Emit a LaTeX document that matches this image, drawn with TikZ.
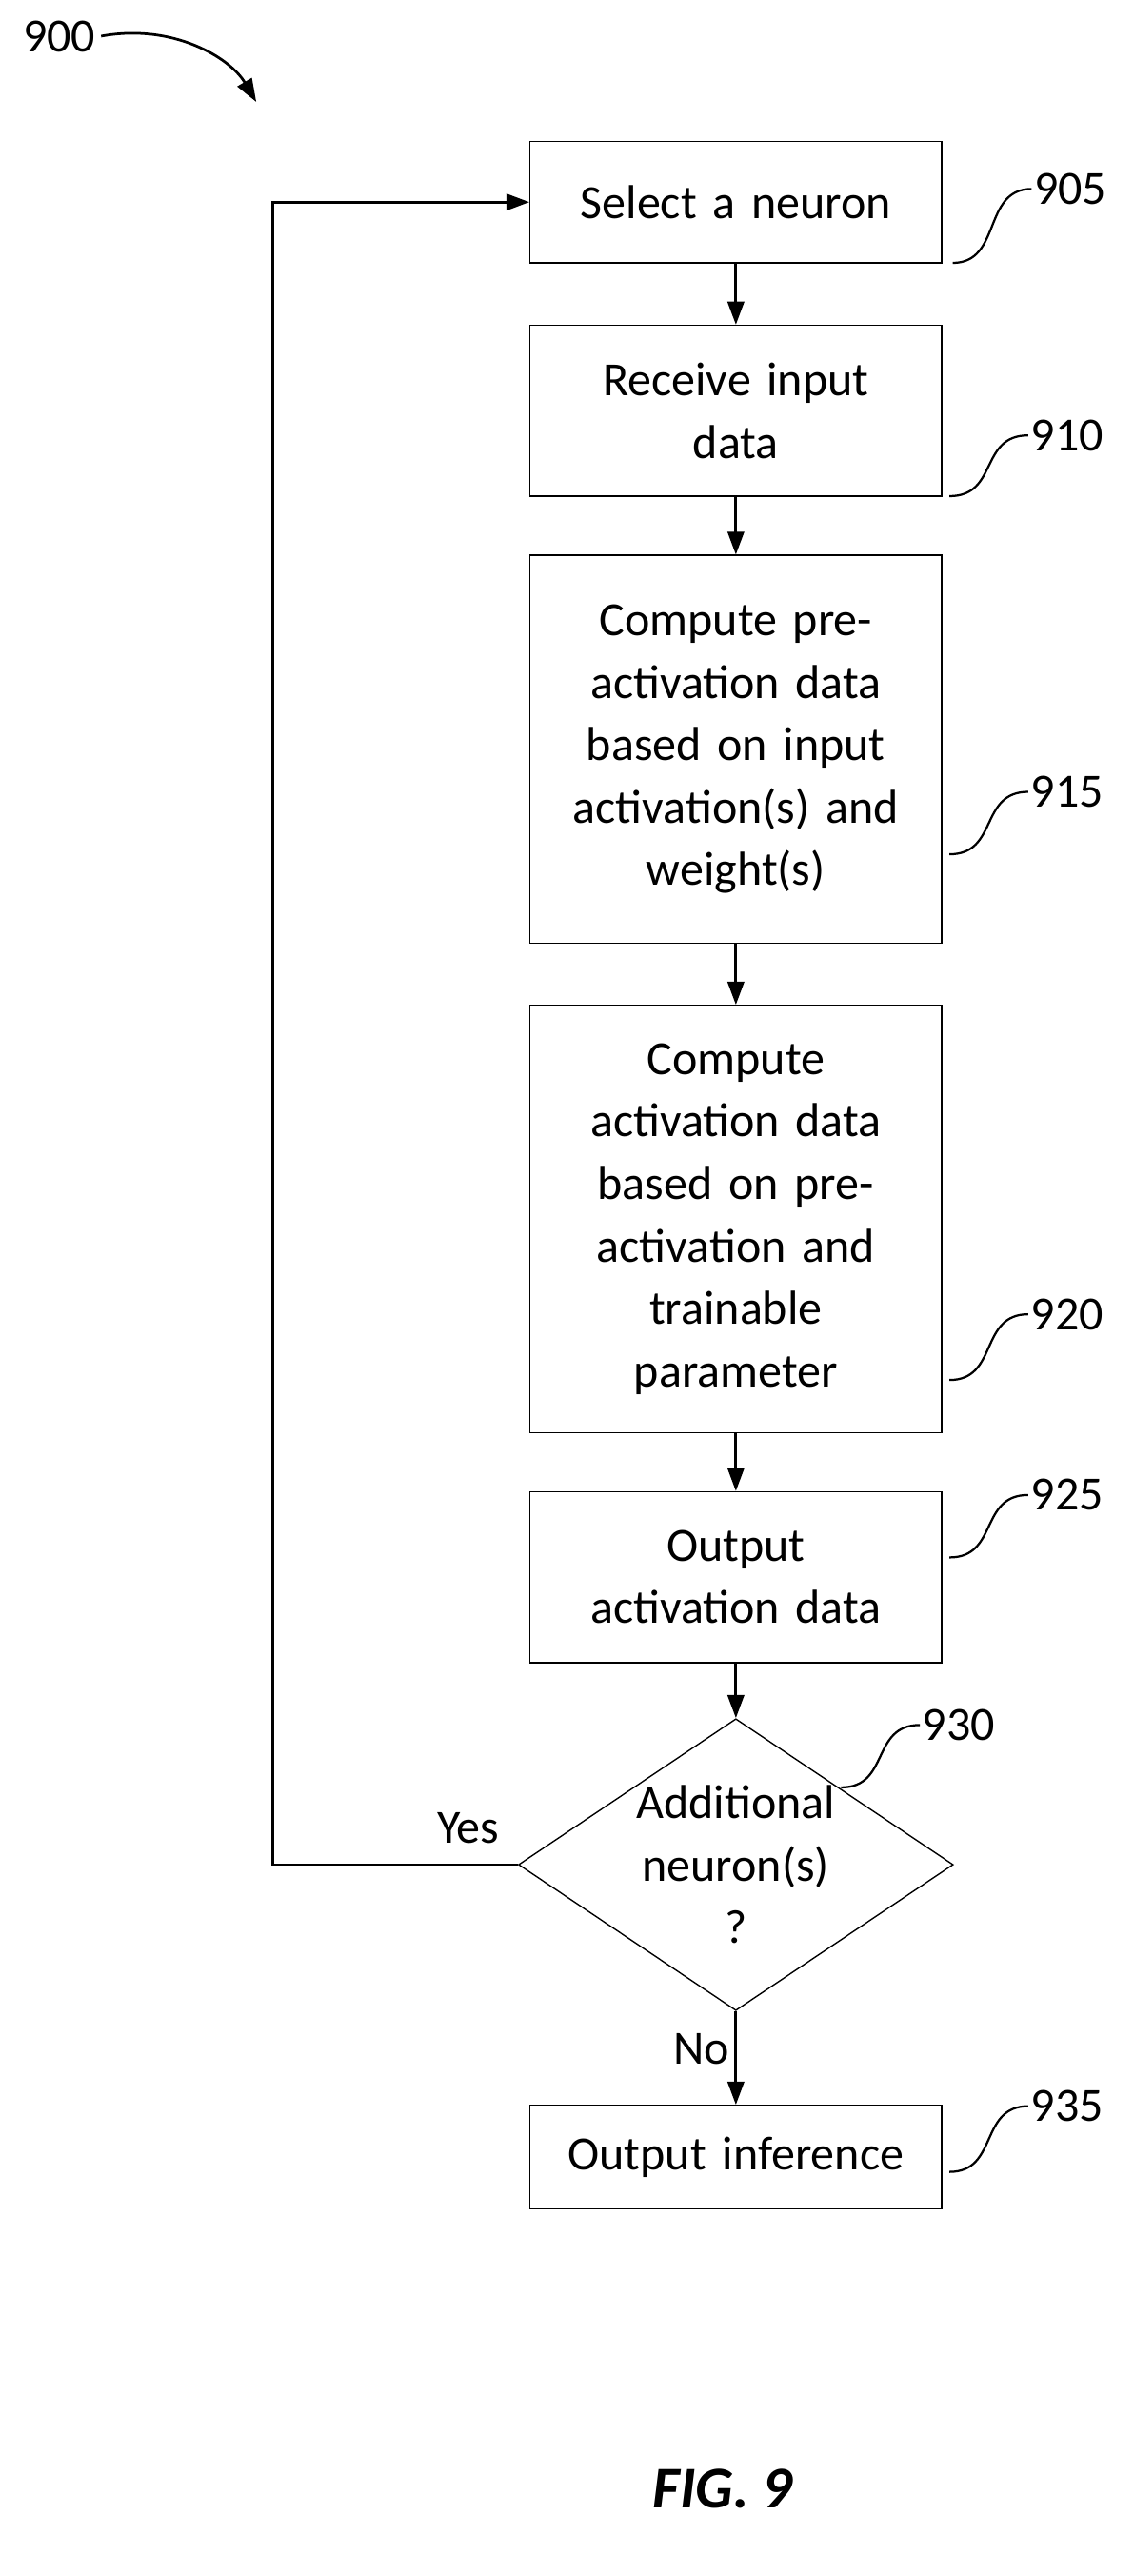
\documentclass[tikz,border=0pt]{standalone}
\usepackage{fontspec}
\setmainfont{Carlito}
\usetikzlibrary{shapes.geometric,arrows.meta}
\begin{document}
\begin{tikzpicture}[x=1pt,y=-1pt,
  every node/.style={font=\fontsize{29}{38}\selectfont},
  box/.style={draw,line width=0.8pt,align=center,text width=244pt},
  arr/.style={-{Triangle[length=14pt,width=10pt]},line width=1.6pt},
  sq/.style={line width=1.3pt},
  lab/.style={anchor=west,inner sep=1pt}]
\useasboundingbox (0,0) rectangle (690,1568);
\node[box,minimum height=74pt] (b905) at (448,123) {Select a neuron};
\node[box,minimum height=104pt] (b910) at (448,250) {Receive input\\data};
\node[box,minimum height=236pt] (b915) at (448,456) {Compute pre-\\activation data\\based on input\\activation(s) and\\weight(s)};
\node[box,minimum height=260pt] (b920) at (448,742) {Compute\\activation data\\based on pre-\\activation and\\trainable\\parameter};
\node[box,minimum height=104pt] (b925) at (448,960) {Output\\activation data};
\node[draw,line width=0.8pt,diamond,minimum width=260pt,minimum height=174pt,inner sep=0pt,align=center,aspect=1.49] (d930) at (448,1135) {Additional\\neuron(s)\\?};
\node[box,minimum height=63pt] (b935) at (448,1313) {Output inference};
\draw[arr] (b905) -- (b910);
\draw[arr] (b910) -- (b915);
\draw[arr] (b915) -- (b920);
\draw[arr] (b920) -- (b925);
\draw[arr] (b925) -- (d930.north);
\draw[arr] (d930.south) -- node[left,pos=0.4]{No} (b935);
\coordinate (c1) at (166,1135);
\coordinate (c2) at (166,123);
\draw[arr] (d930.west) -- (c1) -- (c2) -- (b905.west);
\node at (285,1113) {Yes};
% squiggles
\draw[sq] (580,160) .. controls (610,160) and (598,115) .. (628,115) node[lab]{905};
\draw[sq] (578,302) .. controls (608,302) and (596,265) .. (626,265) node[lab]{910};
\draw[sq] (578,520) .. controls (608,520) and (596,482) .. (626,482) node[lab]{915};
\draw[sq] (578,840) .. controls (608,840) and (596,800) .. (626,800) node[lab]{920};
\draw[sq] (578,948) .. controls (608,948) and (596,910) .. (626,910) node[lab]{925};
\draw[sq] (512,1088) .. controls (542,1088) and (530,1050) .. (560,1050) node[lab]{930};
\draw[sq] (578,1322) .. controls (608,1322) and (596,1282) .. (626,1282) node[lab]{935};
\node (n900) at (36,22) {900};
\draw[arr] (n900.east) .. controls (105,14) and (140,35) .. (156,62);
\node (fig) at (440,1515) {\fontsize{36}{40}\selectfont\bfseries\itshape FIG. 9};
\end{tikzpicture}
\end{document}
